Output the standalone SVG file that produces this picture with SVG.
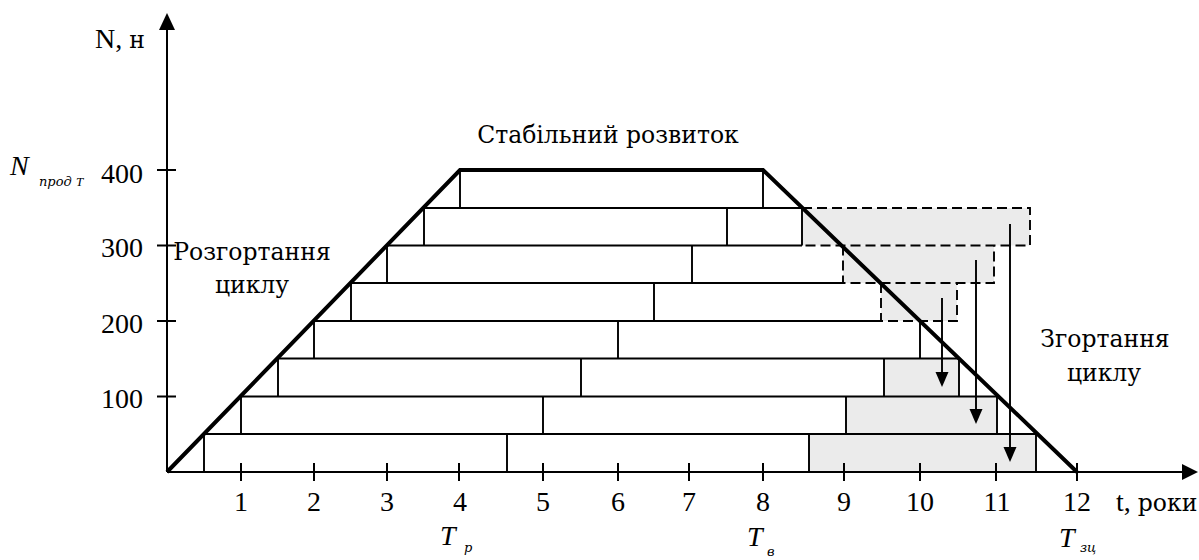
<svg xmlns="http://www.w3.org/2000/svg" width="1199" height="560" viewBox="0 0 1199 560">
<style>
.t{font-family:'Liberation Serif','DejaVu Serif',serif;font-size:28px;fill:#000}
.c{font-family:'DejaVu Serif',serif;font-size:23.5px;fill:#000}
.ti{font-family:'Liberation Serif','DejaVu Serif',serif;font-style:italic;fill:#000}
.ci{font-family:'DejaVu Serif',serif;font-style:italic;fill:#000}
.ln{stroke:#000;stroke-width:1.9;fill:none}
.dash{stroke:#000;stroke-width:1.9;fill:none;stroke-dasharray:10 5}
.sh{fill:#ebebeb;stroke:none}
.thick{stroke:#000;stroke-width:4;fill:none;stroke-linejoin:miter}
.ax{stroke:#000;stroke-width:2;fill:none}
</style>
<rect width="1199" height="560" fill="#fff"/>
<g id="shading">
<rect class="sh" x="802" y="208" width="228" height="37.5"/>
<rect class="sh" x="843" y="245.5" width="151" height="37.5"/>
<rect class="sh" x="881" y="283" width="76" height="38"/>
<rect class="sh" x="884" y="358.5" width="75" height="38"/>
<rect class="sh" x="846" y="396.5" width="151" height="37.5"/>
<rect class="sh" x="809" y="434" width="227" height="38"/>
</g>
<g id="dashed-boxes">
<path class="dash" d="M802 208H1030V245.5H802"/>
<path class="dash" d="M843 245.5V283H994V245.5"/>
<path class="dash" d="M881 283V321H957V283"/>
</g>
<g id="rows">
<g id="row8"><path class="ln" d="M460 170V208M763 170V208"/></g>
<g id="row7"><path class="ln" d="M424 208H802M424 208V245.5M727 208V245.5M802 208V245.5"/></g>
<g id="row6"><path class="ln" d="M387 245.5H802M387 245.5V283M692 245.5V283"/></g>
<g id="row5"><path class="ln" d="M351 283H843M351 283V321M654 283V321"/></g>
<g id="row4"><path class="ln" d="M314 321H881M314 321V358.5M618 321V358.5M920 321V358.5"/></g>
<g id="row3"><path class="ln" d="M278 358.5H959M278 358.5V396.5M581 358.5V396.5M884 358.5V396.5M959 358.5V396.5"/></g>
<g id="row2"><path class="ln" d="M241 396.5H997M241 396.5V434M543 396.5V434M846 396.5V434M997 396.5V434"/></g>
<g id="row1"><path class="ln" d="M204 434H1036M204 434V472M507 434V472M809 434V472M1036 434V472"/></g>
</g>
<g id="trapezoid"><path class="thick" d="M167 472L460 170H763L1077 472"/></g>
<g id="axes">
<path class="ax" d="M167 472V28M167 472H1184"/>
<polygon points="167,13 159,30 175,30" fill="#000"/>
<polygon points="1198,472 1182,464 1182,480" fill="#000"/>
<path class="ax" d="M157 170H176M157 245.5H176M157 321H176M157 396.5H176"/>
<path class="ax" d="M241 463V481M314 463V481M387 463V481M459 463V481M543 463V481M618 463V481M689 463V481M763 463V481M844 463V481M920 463V481M996 463V481M1077 463V481"/>
</g>
<g id="connectors">
<path class="ln" d="M942 298V373M976 260V410M1010 224V448"/>
<polygon points="942,387 935.5,372 948.5,372" fill="#000"/>
<polygon points="976,424 969.5,409 982.5,409" fill="#000"/>
<polygon points="1010,462 1003.5,447 1016.5,447" fill="#000"/>
</g>
<g id="labels">
<text class="c" x="608" y="143" text-anchor="middle">Стабільний розвиток</text>
<text class="c" x="252" y="260" text-anchor="middle">Розгортання</text>
<text class="c" x="252" y="293" text-anchor="middle">циклу</text>
<text class="c" x="1105" y="347" text-anchor="middle">Згортання</text>
<text class="c" x="1104" y="381" text-anchor="middle">циклу</text>
<text class="t" x="145" y="48" text-anchor="end">N, <tspan class="c">н</tspan></text>
<text class="t" x="143" y="182.5" text-anchor="end">400</text>
<text class="t" x="143" y="257" text-anchor="end">300</text>
<text class="t" x="143" y="333" text-anchor="end">200</text>
<text class="t" x="143" y="408" text-anchor="end">100</text>
<text class="ti" x="10" y="175" font-size="28">N</text>
<text class="ci" x="39" y="186" font-size="13">прод <tspan class="ti">T</tspan></text>
<g text-anchor="middle">
<text class="t" x="241" y="511">1</text>
<text class="t" x="314" y="511">2</text>
<text class="t" x="387" y="511">3</text>
<text class="t" x="460" y="511">4</text>
<text class="t" x="543" y="511">5</text>
<text class="t" x="618" y="511">6</text>
<text class="t" x="689" y="511">7</text>
<text class="t" x="763" y="511">8</text>
<text class="t" x="844" y="511">9</text>
<text class="t" x="920" y="511">10</text>
<text class="t" x="997" y="511">11</text>
<text class="t" x="1077" y="511">12</text>
</g>
<text class="t" x="1116" y="511">t, <tspan class="c">роки</tspan></text>
<text class="ti" x="440" y="545" font-size="28">T</text>
<text class="ci" x="464" y="552" font-size="13">р</text>
<text class="ti" x="747" y="546" font-size="28">T</text>
<text class="ci" x="767" y="556" font-size="13">в</text>
<text class="ti" x="1059" y="547" font-size="28">T</text>
<text class="ci" x="1080" y="552" font-size="13">зц</text>
</g>
</svg>
